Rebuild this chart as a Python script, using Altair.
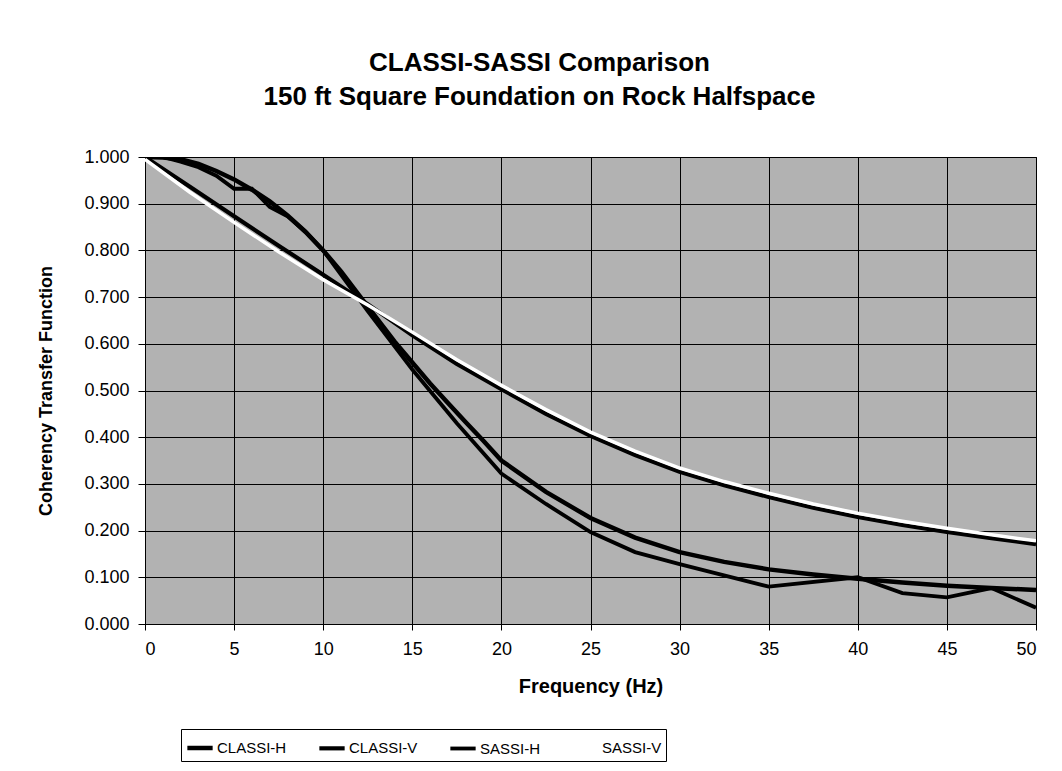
import altair as alt
import pandas as pd

series_names = ["CLASSI-H", "CLASSI-V", "SASSI-H", "SASSI-V"]

classi_h_freq = [0, 1, 2, 3, 4, 5, 6, 7, 8, 9, 10, 11, 12, 13, 14, 15, 16, 17, 18, 19, 20,
                 22.5, 25, 27.5, 30, 32.5, 35, 37.5, 40, 42.5, 45, 47.5, 50]
classi_h_val = [1.0, 0.999, 0.995, 0.985, 0.970, 0.952, 0.930, 0.905, 0.875, 0.840, 0.800,
                0.755, 0.705, 0.655, 0.605, 0.560, 0.515, 0.473, 0.432, 0.392, 0.350,
                0.283, 0.227, 0.185, 0.154, 0.133, 0.117, 0.106, 0.097, 0.089, 0.082, 0.077, 0.073]

classi_v_freq = [0, 2.5, 5, 7.5, 10, 12.5, 15, 17.5, 20, 22.5, 25, 27.5, 30, 32.5, 35,
                 37.5, 40, 42.5, 45, 47.5, 50]
classi_v_val = [1.0, 0.937, 0.873, 0.810, 0.748, 0.685, 0.618, 0.557, 0.503, 0.450, 0.403,
                0.362, 0.326, 0.297, 0.272, 0.249, 0.229, 0.212, 0.197, 0.184, 0.171]

sassi_h_freq = [0, 1, 2, 3, 4, 5, 6, 7, 8, 9, 10, 12.5, 15, 17.5, 20, 22.5, 25, 27.5, 30,
                35, 40, 42.5, 45, 47.5, 50]
sassi_h_val = [1.0, 1.0, 0.990, 0.978, 0.960, 0.932, 0.932, 0.893, 0.873, 0.840, 0.800,
               0.670, 0.545, 0.430, 0.322, 0.257, 0.197, 0.154, 0.128, 0.080, 0.100, 0.066,
               0.057, 0.077, 0.035]

sassi_v_freq = [0, 2.5, 5, 7.5, 10, 12.5, 15, 17.5, 20, 22.5, 25, 27.5, 30, 32.5, 35,
                37.5, 40, 42.5, 45, 47.5, 50]
sassi_v_val = [0.995, 0.925, 0.860, 0.797, 0.737, 0.683, 0.625, 0.566, 0.511, 0.459, 0.411,
               0.370, 0.334, 0.305, 0.280, 0.257, 0.237, 0.220, 0.205, 0.191, 0.178]

x_ticks = [0, 5, 10, 15, 20, 25, 30, 35, 40, 45, 50]
y_ticks = [0.0, 0.1, 0.2, 0.3, 0.4, 0.5, 0.6, 0.7, 0.8, 0.9, 1.0]

rows = []
for name, fs, vs in [
    ("CLASSI-H", classi_h_freq, classi_h_val),
    ("CLASSI-V", classi_v_freq, classi_v_val),
    ("SASSI-H", sassi_h_freq, sassi_h_val),
    ("SASSI-V", sassi_v_freq, sassi_v_val),
]:
    for i, (f, v) in enumerate(zip(fs, vs)):
        rows.append({"series": name, "freq": f, "value": v, "idx": i})
df = pd.DataFrame(rows)

FONT = "Liberation Sans"

chart = alt.Chart(df).mark_line(clip=True).encode(
    x=alt.X("freq:Q",
            scale=alt.Scale(domain=[0, 50], nice=False),
            axis=alt.Axis(values=x_ticks, title="Frequency (Hz)", format="d",
                          labelFontSize=18, titleFontSize=20, labelPadding=10,
                          titlePadding=18, tickSize=6)),
    y=alt.Y("value:Q",
            scale=alt.Scale(domain=[0, 1], nice=False),
            axis=alt.Axis(values=y_ticks, title="Coherency Transfer Function", format=".3f",
                          labelFontSize=18, titleFontSize=18, labelPadding=9,
                          titlePadding=28, tickSize=7)),
    color=alt.Color("series:N",
                    scale=alt.Scale(domain=series_names,
                                    range=["#000000", "#000000", "#000000", "#ffffff"]),
                    legend=alt.Legend(title=None, orient="none", direction="horizontal",
                                      legendX=36, legendY=572,
                                      symbolType="stroke", symbolSize=640,
                                      symbolStrokeWidth=3.5, labelFontSize=15,
                                      labelFont=FONT, columnPadding=24,
                                      strokeColor="#000000", fillColor="#ffffff",
                                      padding=4, labelOffset=2)),
    strokeWidth=alt.StrokeWidth("series:N",
                                scale=alt.Scale(domain=series_names, range=[4.5, 3.5, 4, 4.5]),
                                legend=None),
    order=alt.Order("idx:Q"),
).properties(
    width=891,
    height=467,
    title=alt.TitleParams(
        text=["CLASSI-SASSI Comparison", "150 ft Square Foundation on Rock Halfspace"],
        fontSize=26, font=FONT, fontWeight="bold", lineHeight=34,
        anchor="middle", dx=-51, offset=38, color="#000000"),
    autosize=alt.AutoSizeParams(type="none"),
    padding={"left": 137, "top": 149, "right": 18, "bottom": 139},
).configure_view(
    fill="#b2b2b2", stroke="#000000", strokeWidth=1
).configure_axis(
    grid=True, gridColor="#000000", gridWidth=1, gridOpacity=1,
    domainColor="#000000", tickColor="#000000", labelColor="#000000",
    titleColor="#000000", labelFont=FONT, titleFont=FONT, titleFontWeight="bold",
)

chart.save("out.html", embed_options={"renderer": "svg", "actions": False})
